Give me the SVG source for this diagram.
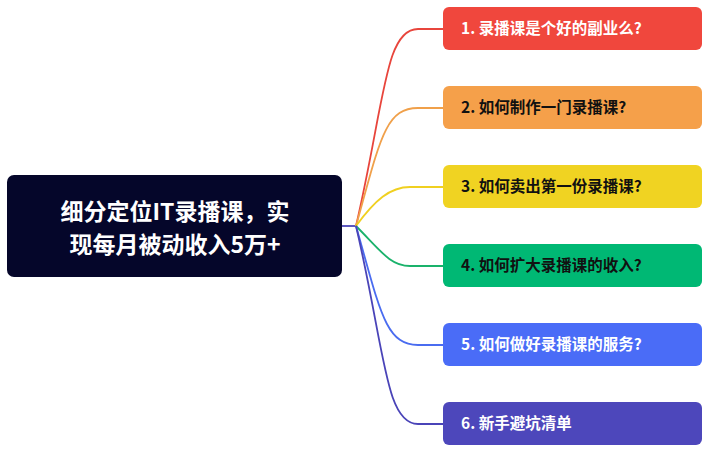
<svg xmlns="http://www.w3.org/2000/svg" width="711" height="456" viewBox="0 0 711 456">
<style>
text{font-family:"Noto Sans CJK SC","Liberation Sans",sans-serif;font-weight:bold}
.t{font-size:15.5px}
.c{fill:none;stroke-width:1.8}
</style>
<rect width="711" height="456" fill="#fff"/>
<g id="connectors">
<line x1="340" y1="226" x2="356" y2="226" stroke="#4a44b8" stroke-width="1.8"/>
<path class="c" stroke="#e8453c" d="M356,226 C385,100 385,29 418,29 H443"/>
<path class="c" stroke="#f0a04a" d="M356,226 C380,140 385,108 418,108 H443"/>
<path class="c" stroke="#f0d020" d="M356,226 C375,200 390,187 410,187 H443"/>
<path class="c" stroke="#1ab26b" d="M356,226 C380,250 390,266 410,266 H443"/>
<path class="c" stroke="#4a6cf0" d="M356,226 C380,310 385,345 418,345 H443"/>
<path class="c" stroke="#4a44b8" d="M356,226 C385,350 385,424 418,424 H443"/>
</g>
<g id="root">
<rect x="7" y="175" width="335" height="102" rx="7" fill="#05062a"/>
<text x="175" y="220" font-size="23" fill="#fff" text-anchor="middle">细分定位IT录播课，实</text>
<text x="175" y="253" font-size="23" fill="#fff" text-anchor="middle">现每月被动收入5万+</text>
</g>
<g id="n1"><rect x="443" y="7" width="259" height="43" rx="6" fill="#f0473d"/><text class="t" x="461" y="34" fill="#fff">1. 录播课是个好的副业么?</text></g>
<g id="n2"><rect x="443" y="86" width="259" height="43" rx="6" fill="#f5a04a"/><text class="t" x="461" y="113" fill="#111">2. 如何制作一门录播课?</text></g>
<g id="n3"><rect x="443" y="165" width="259" height="43" rx="6" fill="#f0d322"/><text class="t" x="461" y="192" fill="#111">3. 如何卖出第一份录播课?</text></g>
<g id="n4"><rect x="443" y="244" width="259" height="43" rx="6" fill="#00b874"/><text class="t" x="461" y="271" fill="#111">4. 如何扩大录播课的收入?</text></g>
<g id="n5"><rect x="443" y="323" width="259" height="43" rx="6" fill="#4a6cf7"/><text class="t" x="461" y="350" fill="#fff">5. 如何做好录播课的服务?</text></g>
<g id="n6"><rect x="443" y="402" width="259" height="43" rx="6" fill="#4d47bb"/><text class="t" x="461" y="429" fill="#fff">6. 新手避坑清单</text></g>
</svg>
